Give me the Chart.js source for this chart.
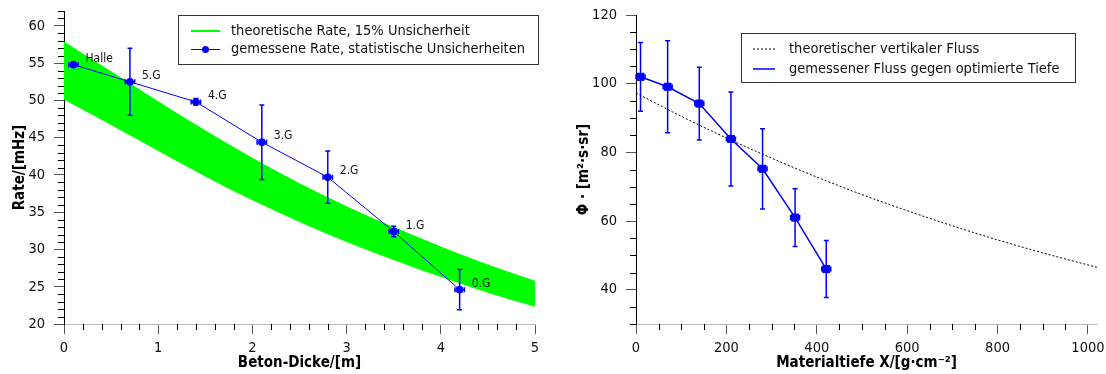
<!DOCTYPE html>
<html>
<head>
<meta charset="utf-8">
<script src="https://cdn.jsdelivr.net/npm/chart.js@4.4.1/dist/chart.umd.min.js"></script>
<style>
html, body { margin: 0; padding: 0; background: #fff; }
#wrap { position: relative; width: 1106px; height: 374px; }
#left { position: absolute; left: 0; top: 0; }
#right { position: absolute; left: 560px; top: 0; }
</style>
</head>
<body>
<div id="wrap">
<canvas id="left" width="560" height="374"></canvas>
<canvas id="right" width="546" height="374"></canvas>
</div>
<script>
// Rate gegen Beton-Dicke
const bandX = [0, 0.5, 1, 1.5, 2, 2.5, 3, 3.5, 4, 4.5, 5];
const bandUpper = [57.9, 53.9, 49.9, 46.0, 42.3, 38.9, 35.8, 33.0, 30.4, 28.0, 25.8];
const bandLower = [50.1, 46.7, 43.2, 39.8, 36.6, 33.7, 31.0, 28.6, 26.3, 24.2, 22.3];

const floors = ['Halle', '5.G', '4.G', '3.G', '2.G', '1.G', '0.G'];
const thickness = [0.1, 0.7, 1.4, 2.1, 2.8, 3.5, 4.2];
const thicknessErr = [0.05, 0.05, 0.05, 0.05, 0.05, 0.05, 0.05];
const rate = [54.8, 52.5, 49.8, 44.4, 39.7, 32.4, 24.6];
const rateErr = [0.3, 4.5, 0.45, 5.0, 3.5, 0.7, 2.7];

const thicknessTicks = [0, 1, 2, 3, 4, 5];
const rateTicks = [20, 25, 30, 35, 40, 45, 50, 55, 60];

// Fluss gegen Materialtiefe
const theoryDepth = [0, 100, 200, 300, 400, 500, 600, 700, 800, 900, 1000, 1020];
const theoryFlux = [97.3, 90.5, 84.2, 78.3, 72.8, 67.7, 63.0, 58.6, 54.5, 50.7, 47.2, 46.5];

const depth = [10, 70, 140, 210, 280, 352, 421];
const depthErr = [10, 10, 10, 10, 10, 10, 10];
const flux = [102.0, 99.1, 94.2, 83.9, 75.2, 61.0, 46.0];
const fluxErr = [10.0, 13.4, 10.6, 13.7, 11.7, 8.4, 8.3];

const depthTicks = [0, 200, 400, 600, 800, 1000];
const fluxTicks = [40, 60, 80, 100, 120];

const blue = '#0000ff';
const green = '#00ff00';
const ink = '#111';
const family = "'DejaVu Sans Condensed', 'DejaVu Sans', sans-serif";

Chart.defaults.font.family = family;
Chart.defaults.font.size = 14.5;
Chart.defaults.color = ink;

const pts = (xs, ys) => xs.map((x, i) => ({ x, y: ys[i] }));

// short ticks between the labelled ones
const minorTicks = {
    id: 'minorTicks',
    afterDraw(chart, args, opts) {
        const ctx = chart.ctx;
        ctx.save();
        ctx.strokeStyle = '#000';
        ctx.lineWidth = 1;
        for (const id of Object.keys(opts.steps || {})) {
            const scale = chart.scales[id];
            const step = opts.steps[id];
            const majors = scale.ticks.map((t) => t.value);
            const first = Math.ceil(scale.min / step - 1e-9);
            const last = Math.floor(scale.max / step + 1e-9);
            for (let n = first; n <= last; n++) {
                const v = n * step;
                if (majors.some((m) => Math.abs(m - v) < step / 1000)) continue;
                const p = Math.round(scale.getPixelForValue(v)) + 0.5;
                ctx.beginPath();
                if (scale.isHorizontal()) {
                    ctx.moveTo(p, scale.top);
                    ctx.lineTo(p, scale.top + opts.length);
                } else {
                    ctx.moveTo(scale.right, p);
                    ctx.lineTo(scale.right - opts.length, p);
                }
                ctx.stroke();
            }
        }
        ctx.restore();
    },
};

const errorBars = {
    id: 'errorBars',
    afterDatasetsDraw(chart, args, opts) {
        const xs = chart.scales.x;
        const ys = chart.scales.y;
        const data = chart.data.datasets[opts.dataset].data;
        const ctx = chart.ctx;
        const c = opts.cap;
        ctx.save();
        ctx.strokeStyle = opts.color;
        ctx.lineWidth = opts.width;
        data.forEach((d, i) => {
            const cx = xs.getPixelForValue(d.x);
            const cy = ys.getPixelForValue(d.y);
            const y0 = ys.getPixelForValue(d.y - opts.yErr[i]);
            const y1 = ys.getPixelForValue(d.y + opts.yErr[i]);
            const x0 = xs.getPixelForValue(d.x - opts.xErr[i]);
            const x1 = xs.getPixelForValue(d.x + opts.xErr[i]);
            ctx.beginPath();
            ctx.moveTo(cx, y0); ctx.lineTo(cx, y1);
            ctx.moveTo(cx - c, y0); ctx.lineTo(cx + c, y0);
            ctx.moveTo(cx - c, y1); ctx.lineTo(cx + c, y1);
            ctx.moveTo(x0, cy); ctx.lineTo(x1, cy);
            ctx.moveTo(x0, cy - c); ctx.lineTo(x0, cy + c);
            ctx.moveTo(x1, cy - c); ctx.lineTo(x1, cy + c);
            ctx.stroke();
        });
        ctx.restore();
    },
};

const pointLabels = {
    id: 'pointLabels',
    afterDatasetsDraw(chart, args, opts) {
        if (!opts.labels) return;
        const meta = chart.getDatasetMeta(opts.dataset);
        const ctx = chart.ctx;
        ctx.save();
        ctx.font = `12px ${family}`;
        ctx.fillStyle = ink;
        ctx.textBaseline = 'middle';
        meta.data.forEach((el, i) => {
            ctx.fillText(opts.labels[i], el.x + opts.dx, el.y + opts.dy);
        });
        ctx.restore();
    },
};

const boxLegend = {
    id: 'boxLegend',
    afterDraw(chart, args, o) {
        const ctx = chart.ctx;
        ctx.save();
        ctx.fillStyle = '#fff';
        ctx.fillRect(o.x, o.y, o.w, o.h);
        ctx.strokeStyle = '#333';
        ctx.lineWidth = 1;
        ctx.strokeRect(o.x + 0.5, o.y + 0.5, o.w, o.h);
        ctx.font = `14.5px ${family}`;
        ctx.textBaseline = 'middle';
        o.items.forEach((it, i) => {
            const ds = chart.data.datasets[it.dataset];
            const y = o.y + o.rowTop + i * o.rowGap;
            const x0 = o.x + o.lineStart;
            ctx.strokeStyle = it.color;
            ctx.lineWidth = it.width;
            ctx.setLineDash(it.dash || []);
            ctx.beginPath();
            ctx.moveTo(x0, y);
            ctx.lineTo(x0 + o.lineLen, y);
            ctx.stroke();
            ctx.setLineDash([]);
            if (it.dot) {
                ctx.fillStyle = it.color;
                ctx.beginPath();
                ctx.arc(x0 + o.lineLen / 2, y, it.dot, 0, Math.PI * 2);
                ctx.fill();
            }
            ctx.fillStyle = ink;
            ctx.fillText(ds.label, o.x + o.textStart, y);
        });
        ctx.restore();
    },
};

function axis(min, max, tickValues, title, size, titlePad, color) {
    const horizontal = size === 50;
    return {
        type: 'linear',
        min,
        max,
        afterBuildTicks(scale) {
            scale.ticks = tickValues.map((value) => ({ value }));
        },
        ticks: {
            maxRotation: 0,
            autoSkip: false,
            padding: horizontal ? 6 : 9,
            color: ink,
            callback: (v) => String(v),
        },
        grid: { drawOnChartArea: false, tickLength: 10, tickColor: '#555' },
        border: { color },
        title: {
            display: true,
            text: title,
            color: '#000',
            font: { size: 15, weight: 'bold' },
            padding: titlePad,
        },
        afterFit(scale) {
            // keep the plot area where the layout padding puts it
            scale.paddingTop = 0;
            scale.paddingBottom = 0;
            scale.paddingLeft = 0;
            scale.paddingRight = 0;
            if (scale.isHorizontal()) {
                scale.height = size;
            } else {
                scale.width = size;
            }
        },
    };
}

new Chart(document.getElementById('left'), {
    type: 'line',
    plugins: [minorTicks, errorBars, pointLabels, boxLegend],
    data: {
        datasets: [
            {
                label: 'gemessene Rate, statistische Unsicherheiten',
                data: pts(thickness, rate),
                borderColor: blue,
                backgroundColor: blue,
                borderWidth: 1,
                pointRadius: 3.5,
                pointBorderWidth: 1,
                order: 0,
            },
            {
                label: 'theoretische Rate, 15% Unsicherheit',
                data: pts(bandX, bandUpper),
                borderWidth: 0,
                borderColor: green,
                backgroundColor: green,
                pointRadius: 0,
                fill: '+1',
                cubicInterpolationMode: 'monotone',
                order: 1,
            },
            {
                label: 'untere Grenze',
                data: pts(bandX, bandLower),
                borderWidth: 0,
                borderColor: green,
                pointRadius: 0,
                fill: false,
                cubicInterpolationMode: 'monotone',
                order: 2,
            },
        ],
    },
    options: {
        responsive: false,
        animation: false,
        events: [],
        layout: { padding: { top: 11, right: 25, left: 0, bottom: 0 } },
        plugins: {
            legend: { display: false },
            tooltip: { enabled: false },
            minorTicks: { steps: { x: 0.2, y: 1 }, length: 6 },
            errorBars: { dataset: 0, xErr: thicknessErr, yErr: rateErr, cap: 2.5, color: blue, width: 1.5 },
            pointLabels: { dataset: 0, labels: floors, dx: 12, dy: -6 },
            boxLegend: {
                x: 178, y: 15, w: 360, h: 49, rowTop: 16, rowGap: 18.5,
                lineStart: 13, lineLen: 29, textStart: 53,
                items: [
                    { dataset: 1, color: green, width: 2 },
                    { dataset: 0, color: blue, width: 1, dot: 3.5 },
                ],
            },
        },
        scales: {
            x: axis(0, 5, thicknessTicks, 'Beton-Dicke/[m]', 50, { top: 0, bottom: 2 }, '#bbb'),
            y: axis(20, 62, rateTicks, 'Rate/[mHz]', 64, { top: 11, bottom: 0 }, '#000'),
        },
    },
});

new Chart(document.getElementById('right'), {
    type: 'line',
    plugins: [minorTicks, errorBars, boxLegend],
    data: {
        datasets: [
            {
                label: 'gemessener Fluss gegen optimierte Tiefe',
                data: pts(depth, flux),
                borderColor: blue,
                backgroundColor: blue,
                borderWidth: 1.5,
                pointStyle: 'rect',
                pointRadius: 5,
                pointBorderWidth: 1,
                order: 0,
            },
            {
                label: 'theoretischer vertikaler Fluss',
                data: pts(theoryDepth, theoryFlux),
                borderColor: '#000',
                borderWidth: 1,
                borderDash: [2, 2],
                pointRadius: 0,
                fill: false,
                cubicInterpolationMode: 'monotone',
                order: 1,
            },
        ],
    },
    options: {
        responsive: false,
        animation: false,
        events: [],
        layout: { padding: { top: 15, right: 9, left: 0, bottom: 0 } },
        plugins: {
            legend: { display: false },
            tooltip: { enabled: false },
            minorTicks: { steps: { x: 50, y: 5 }, length: 6 },
            errorBars: { dataset: 0, xErr: depthErr, yErr: fluxErr, cap: 2.5, color: blue, width: 1.5 },
            boxLegend: {
                x: 181, y: 33, w: 334, h: 49, rowTop: 16, rowGap: 20,
                lineStart: 12, lineLen: 22, textStart: 48,
                items: [
                    { dataset: 1, color: '#000', width: 1, dash: [2, 2] },
                    { dataset: 0, color: blue, width: 1.5 },
                ],
            },
        },
        scales: {
            x: axis(0, 1020, depthTicks, 'Materialtiefe X/[g·cm⁻²]', 50, { top: 0, bottom: 2 }, '#bbb'),
            y: axis(30, 120, fluxTicks, 'Φ · [m²·s·sr]', 76, { top: 15, bottom: 0 }, '#000'),
        },
    },
});
</script>
</body>
</html>
